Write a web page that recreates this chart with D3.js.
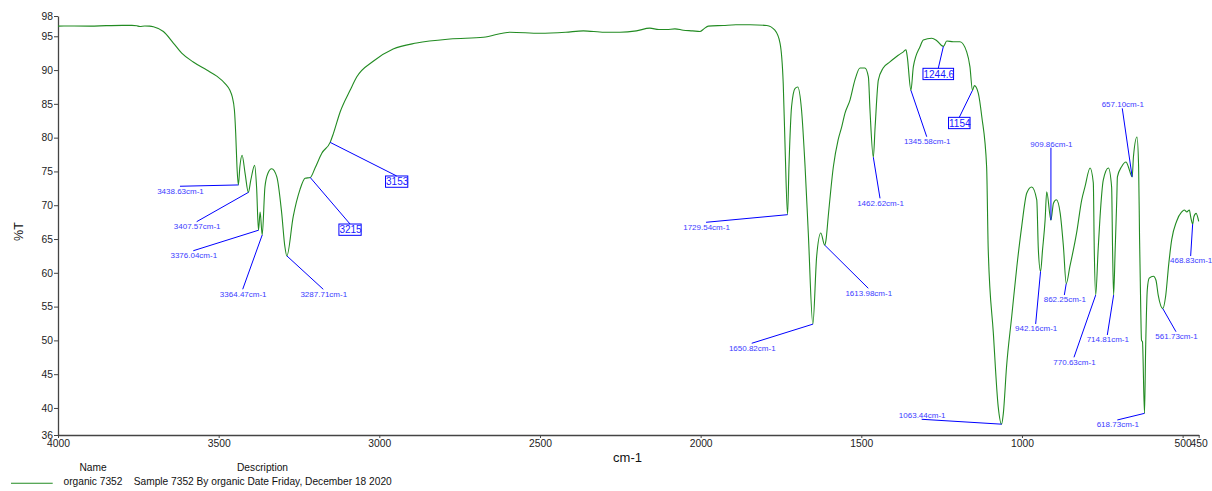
<!DOCTYPE html>
<html><head><meta charset="utf-8">
<script src="https://cdn.jsdelivr.net/npm/d3@7"></script>
<style>
body{margin:0;background:#fff}
svg{display:block}
text{font-family:"Liberation Sans",Arial,sans-serif}
</style>
</head><body>
<svg id="chart" width="1212" height="491"></svg>
<script>
// ---- data ----
const wavenumbers = [4000,3950,3900,3850,3800,3770,3755,3745,3730,3715,3703,3672,3641,3615,3579,3537,3506,3480,3465,3458,3451,3447,3443,3438.63,3434,3427,3418,3407.57,3400,3388,3382,3376.04,3371,3364.47,3356,3347,3335,3319,3304,3294,3287.71,3268,3247,3231,3215,3200,3179,3153,3143,3122,3091,3070,3019,2957,2884,2780,2676,2593,2500,2420,2365,2300,2251,2200,2158,2130,2106,2080,2054,2025,2002,1990,1976,1930,1890,1846,1794,1769,1753,1743,1737,1729.54,1725,1717,1706,1698,1686,1675,1665,1650.82,1639,1626,1613.98,1610,1603,1587,1572,1561,1551,1535,1520,1504,1489,1478,1473,1462.62,1457,1447,1432,1411,1385,1369,1361,1357,1345.58,1338,1317,1307,1281,1265,1244.6,1234,1214,1193,1172,1162,1154,1148,1136,1125,1110,1105,1089,1074,1063.44,1058,1048,1032,1016,1001,985,970,954,949,942.16,936,928,923,909.86,902,893,881,871,862.25,851,830,814,804,788,778,775,770.63,763,757,747,731,721,718,714.81,710,705,703,690,676,669,657.1,653,642,637,634,630.5,628,625,618.73,615,610,604,591,583,576,561.73,553,543,534,519,503,495,487,479,475,468.83,465,458,450];
const transmittance = [96.5,96.52,96.5,96.58,96.62,96.62,96.55,96.45,96.52,96.5,96.4,95.7,94.0,92.5,91.2,90.0,89.1,88.0,87.0,86.1,84.1,80.7,75.7,73.0,75.7,77.4,74.8,71.9,73.7,75.9,72.7,66.3,69.0,65.6,72.7,74.7,75.4,74.2,68.9,63.9,62.5,68.3,72.3,74.0,74.1,75.5,77.7,79.3,80.6,83.8,87.0,89.0,91.3,93.1,94.0,94.6,94.85,95.6,95.45,95.6,95.8,95.6,95.6,95.8,96.2,96.0,96.0,96.1,95.9,95.8,95.7,96.1,96.5,96.6,96.7,96.7,96.6,95.9,94.0,88.0,78.2,68.6,76.0,84.6,87.3,87.5,84.1,75.7,65.9,52.4,62.4,65.9,64.1,64.8,68.3,75.7,79.7,81.6,83.6,85.6,88.5,90.3,90.3,89.0,84.1,77.1,81.6,88.5,90.3,91.2,92.2,92.7,93.0,92.0,87.0,90.5,93.5,94.45,94.7,94.35,93.5,94.3,94.2,94.2,92.7,90.5,87.0,87.7,86.6,83.1,75.7,63.4,51.0,40.2,37.6,39.2,46.1,53.5,60.9,66.8,71.8,72.7,70.8,63.4,60.2,63.4,67.8,72.0,67.8,70.3,70.8,68.8,63.9,58.4,60.9,65.9,70.8,72.7,75.5,73.3,63.4,56.7,63.4,68.3,73.7,75.5,72.7,63.4,56.7,63.4,70.8,74.2,75.7,76.4,75.7,74.2,77.2,80.1,75.7,65.0,55.0,50.0,49.8,39.2,49.1,57.5,59.2,59.5,58.9,56.7,54.7,56.5,61.4,64.9,67.6,69.0,69.3,69.0,69.3,68.3,67.2,68.3,68.8,67.6];

const xTickValues = [4000,3500,3000,2500,2000,1500,1000,500,450];
const yTickValues = [98,95,90,85,80,75,70,65,60,55,50,45,40,36];

const peakLabels = ["3438.63cm-1","3407.57cm-1","3376.04cm-1","3364.47cm-1","3287.71cm-1","3215","3153","1729.54cm-1","1650.82cm-1","1613.98cm-1","1462.62cm-1","1345.58cm-1","1244.6","1154","1063.44cm-1","942.16cm-1","909.86cm-1","862.25cm-1","770.63cm-1","714.81cm-1","657.10cm-1","618.73cm-1","561.73cm-1","468.83cm-1"];
const peakWn = [3438.63,3407.57,3376.04,3364.47,3287.71,3215,3153,1729.54,1650.82,1613.98,1462.62,1345.58,1244.6,1154,1063.44,942.16,909.86,862.25,770.63,714.81,657.1,618.73,561.73,468.83];
const peakT = [73.0,71.9,66.3,65.6,62.5,74.1,79.3,68.6,52.4,64.1,77.1,87.0,93.5,87.0,37.6,60.2,67.8,58.4,56.7,56.7,74.2,39.2,54.7,67.2];
const peakBoxed = [false,false,false,false,false,true,true,false,false,false,false,false,true,true,false,false,false,false,false,false,false,false,false,false];

const legendName = "organic 7352";
const legendDesc = "Sample 7352 By organic Date Friday, December 18 2020";

// ---- layout (pixel offsets of label leader-line ends) ----
const labelOffsets = [[-58.4,1.3],[-51.7,29.3],[-65.2,20.5],[-19.5,54.3],[36.4,33.4],[39.8,46.5],[66.5,33.6],[-81.5,7.6],[-61.1,19.1],[43.6,43.2],[6.7,41.1],[15.8,46.4],[-5.1,21.9],[-13.2,27],[-79.9,-4.9],[-4.9,52.5],[0,-72.4],[-1.9,11.4],[-21.7,62.2],[-6.3,39.9],[-9.9,-68.5],[-27.2,6.6],[13.2,23.1],[-2,31.9]];

const svg = d3.select("#chart");
const x = d3.scaleLinear().domain([4000,450]).range([58,1198.7]);
const y = d3.scaleLinear().domain([36,98]).range([435,16]);
const axisColor = "#444";

// axes
const gy = svg.append("g").attr("transform","translate(58,0)")
  .call(d3.axisLeft(y).tickValues(yTickValues).tickSize(4).tickPadding(1).tickSizeOuter(0).tickFormat(d3.format("d")));
const gx = svg.append("g").attr("transform","translate(0,435)")
  .call(d3.axisBottom(x).tickValues(xTickValues).tickSize(3).tickPadding(2).tickSizeOuter(0).tickFormat(d3.format("d")));
[gx,gy].forEach(g=>{
  g.select(".domain").attr("stroke",axisColor).attr("stroke-width",1.3);
  g.selectAll(".tick line").attr("stroke",axisColor);
  g.selectAll(".tick text").attr("fill","#222").style("font-family",'"Liberation Sans",Arial,sans-serif').style("font-size","10.3px");
});

// axis titles
svg.append("text").attr("x",627.5).attr("y",461.5).attr("text-anchor","middle")
  .style("font-size","13px").attr("fill","#111").text("cm-1");
svg.append("text").attr("transform","translate(23,231.5) rotate(-90)").attr("text-anchor","middle")
  .style("font-size","12.5px").attr("fill","#111").text("%T");

// spectrum
const pts = wavenumbers.map((w,i)=>[w,transmittance[i]]);
svg.append("path").datum(pts)
  .attr("fill","none").attr("stroke","#228b22").attr("stroke-width",1.1)
  .attr("d", d3.line().x(d=>x(d[0])).y(d=>y(d[1])).curve(d3.curveMonotoneX));

// annotations
const ann = svg.append("g");
peakLabels.forEach((lab,i)=>{
  const px = x(peakWn[i]), py = y(peakT[i]);
  const [dx,dy] = labelOffsets[i];
  const ex = px+dx, ey = py+dy;
  ann.append("line").attr("x1",px).attr("y1",py).attr("x2",ex).attr("y2",ey)
    .attr("stroke","#0000ff").attr("stroke-width",1);
  if (peakBoxed[i]) {
    const t = ann.append("text").attr("x",ex+0.5).attr("y",ey+9.4).attr("text-anchor","middle")
      .style("font-size","10px").attr("fill","#1a1aff").text(lab);
    const w = t.node().getComputedTextLength();
    ann.insert("rect","text").attr("x",ex+0.5-w/2-0.5).attr("y",ey).attr("width",w).attr("height",11.3)
      .attr("fill","#fff").attr("stroke","#0000ff").attr("stroke-width",1);
  } else {
    ann.append("text").attr("x",ex+0.5).attr("y", dy>=0 ? ey+7.3 : ey-1).attr("text-anchor","middle")
      .style("font-size","8px").attr("fill","#3b3bff").text(lab);
  }
});

// legend
const lg = svg.append("g").style("font-size","10.2px").attr("fill","#111");
lg.append("text").attr("x",93).attr("y",471.3).attr("text-anchor","middle").text("Name");
lg.append("text").attr("x",262.5).attr("y",471.3).attr("text-anchor","middle").text("Description");
lg.append("line").attr("x1",11).attr("x2",52.7).attr("y1",483.3).attr("y2",483.3).attr("stroke","#228b22").attr("stroke-width",1.1);
lg.append("text").attr("x",63.5).attr("y",484.8).text(legendName);
lg.append("text").attr("x",133.7).attr("y",484.8).text(legendDesc);
</script>
</body></html>
